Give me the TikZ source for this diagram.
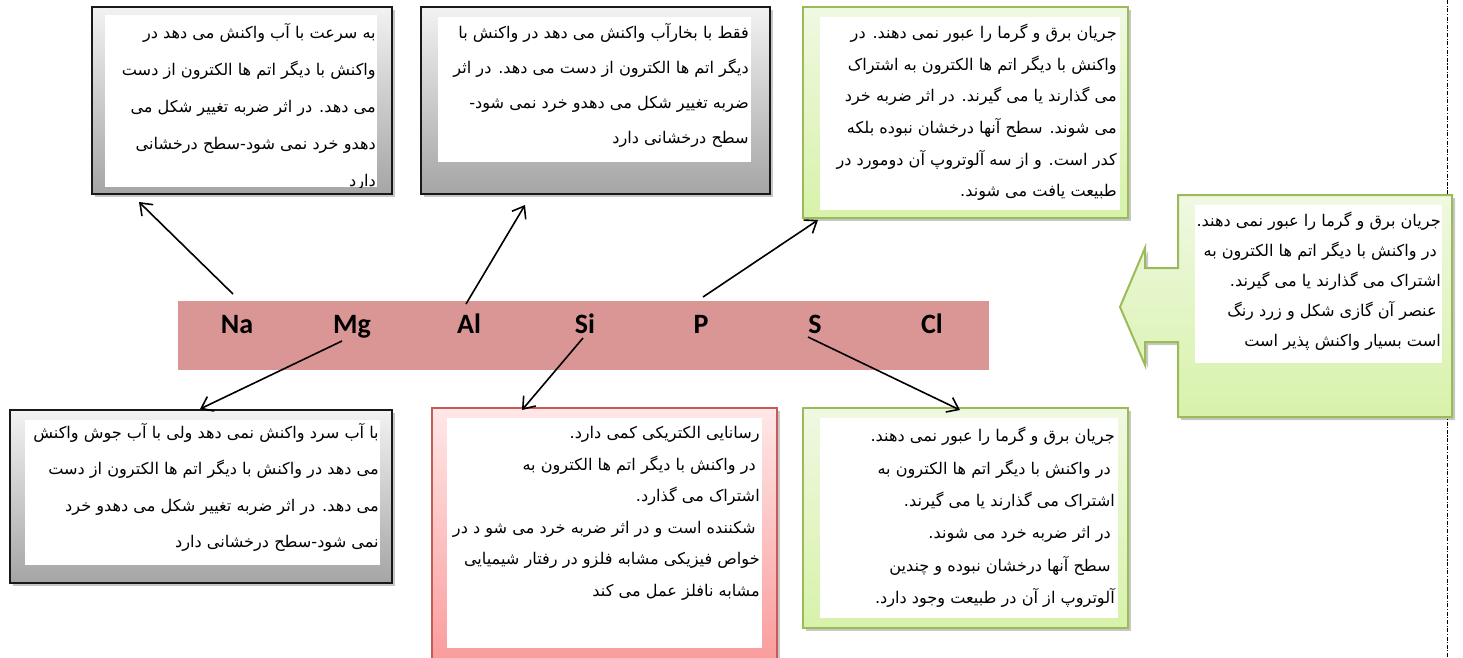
\documentclass[tikz,border=0pt]{standalone}
\usepackage{fontspec}
\usetikzlibrary{arrows.meta}
\TeXXeTstate=1
\newfontfamily\arabicfont[Script=Arabic]{DejaVu Sans}
\newfontfamily\elfont{Carlito}
\definecolor{bandc}{RGB}{217,150,148}
\definecolor{gtop}{RGB}{242,242,242}
\definecolor{gbot}{RGB}{165,165,165}
\definecolor{grnline}{RGB}{155,187,89}
\definecolor{grntop}{RGB}{240,248,226}
\definecolor{grnbot}{RGB}{215,242,170}
\definecolor{redline}{RGB}{200,90,88}
\definecolor{redtop}{RGB}{255,232,232}
\definecolor{redbot}{RGB}{250,155,155}
\tikzset{
  shadowbox/.style={fill=black, opacity=0.22},
  graybox/.style={draw=black!90, line width=1.5pt, top color=gtop, bottom color=gbot},
  greenbox/.style={draw=grnline, line width=1.5pt, top color=grntop, bottom color=grnbot},
  redbox/.style={draw=redline, line width=1.5pt, top color=redtop, bottom color=redbot},
  inner/.style={fill=white},
  para/.style={inner sep=0pt, anchor=north east, align=right, font={\arabicfont\fontsize{12.1}{#1}\selectfont}},
  elem/.style={inner sep=0pt, anchor=base, font={\elfont\bfseries\fontsize{21}{24}\selectfont}},
  arr/.style={line width=1.2pt, -{Straight Barb[length=8pt,width=12pt,line width=1.2pt]}}
}
\begin{document}
\begin{tikzpicture}[x=0.75pt,y=-0.75pt]
\useasboundingbox (0,0) rectangle (1463,657);
% dash-dot separator
\draw[line width=0.6pt, dash pattern=on 3pt off 1.2pt on 0.8pt off 1.2pt] (1447,0) -- (1447,657);

% band
\path[fill=bandc] (178,301) rectangle (989,370);
\node[elem] (na) at (237,333) {Na};
\node[elem] (mg) at (352,333) {Mg};
\node[elem] (al) at (469,333) {Al};
\node[elem] (si) at (585,333) {Si};
\node[elem] (p)  at (701,333) {P};
\node[elem] (s)  at (815,333) {S};
\node[elem] (cl) at (932,333) {Cl};

% ---- box 1 (Na)
\path[shadowbox] (95,10) rectangle (395,197);
\path[graybox] (92,7) rectangle (392,194);
\path[inner] (105,15) rectangle (377,187);
\begin{scope}
\clip (105,15) rectangle (377,187);
\node[para=27.7pt] (t1) at (376,23) {\beginR به سرعت با آب واکنش می دهد در\endR\\
\beginR واکنش با دیگر اتم ها الکترون از دست\endR\\
\beginR می دهد.  در اثر ضربه تغییر شکل می\endR\\
\beginR دهدو خرد نمی شود-سطح درخشانی\endR\\
\beginR دارد\endR};
\end{scope}

% ---- box 2 (Al)
\path[shadowbox] (424,10) rectangle (773,197);
\path[graybox] (421,7) rectangle (770,194);
\path[inner] (438,17) rectangle (751,162);
\node[para=26.2pt] (t2) at (749,23) {\beginR فقط با بخارآب واکنش می دهد در واکنش با\endR\\
\beginR دیگر اتم ها الکترون از دست می دهد.  در اثر\endR\\
\beginR ضربه تغییر شکل می دهدو خرد نمی شود-\endR\\
\beginR سطح درخشانی دارد\endR};

% ---- box 3 (P)
\path[shadowbox] (806,10) rectangle (1131,221);
\path[greenbox] (803,7) rectangle (1128,218);
\path[inner] (820,17) rectangle (1120,210);
\node[para=23.7pt] (t3) at (1117,24) {\beginR جریان برق و گرما را عبور نمی دهند.  در\endR\\
\beginR واکنش با دیگر اتم ها الکترون به اشتراک\endR\\
\beginR می گذارند یا می گیرند. در اثر ضربه خرد\endR\\
\beginR می شوند.  سطح آنها درخشان نبوده بلکه\endR\\
\beginR کدر است. و از سه آلوتروپ آن  دومورد در\endR\\
\beginR طبیعت یافت می شوند.\endR};

% ---- callout (Cl)
\path[shadowbox] (1181,198) -- (1455,198) -- (1455,420) -- (1181,420) -- (1181,345) -- (1148,345) -- (1148,368) -- (1123,310) -- (1148,251) -- (1148,271) -- (1181,271) -- cycle;
\path[greenbox] (1178,195) -- (1452,195) -- (1452,417) -- (1178,417) -- (1178,342) -- (1145,342) -- (1145,365) -- (1120,307) -- (1145,248) -- (1145,268) -- (1178,268) -- cycle;
\path[inner] (1195,205) rectangle (1442,363);
\node[para=22.5pt] (t4) at (1441,212) {\beginR جریان برق و گرما را عبور نمی دهند.\endR\\
\beginR در واکنش با دیگر اتم ها الکترون به\endR\kern3pt\\
\beginR اشتراک می گذارند یا می گیرند.\endR\\
\beginR عنصر آن گازی شکل و زرد رنگ\endR\kern3pt\\
\beginR است  بسیار واکنش پذیر است\endR};

% ---- box 4 (Mg)
\path[shadowbox] (13,413) rectangle (395,586);
\path[graybox] (10,410) rectangle (392,583);
\path[inner] (25,420) rectangle (380,565);
\node[para=27.3pt] (t5) at (379,423) {\beginR با آب سرد واکنش نمی دهد ولی با آب جوش واکنش\endR\\
\beginR می دهد در واکنش با دیگر اتم ها الکترون از دست\endR\\
\beginR می دهد.  در اثر ضربه تغییر شکل می دهدو خرد\endR\\
\beginR نمی شود-سطح درخشانی دارد\endR};

% ---- box 5 (Si)
\path[shadowbox] (435,411) rectangle (780,660);
\path[redbox] (432,408) rectangle (777,664);
\path[inner] (447,418) rectangle (762,648);
\node[para=23.7pt] (t6) at (760,426) {\beginR رسانایی الکتریکی کمی دارد.\endR\\
\beginR در واکنش با دیگر اتم ها الکترون به\endR\kern3pt\\
\beginR اشتراک می گذارد.\endR\\
\beginR شکننده است و در اثر ضربه خرد می شو د در\endR\kern3pt\\
\beginR خواص فیزیکی مشابه فلزو در رفتار شیمیایی\endR\\
\beginR مشابه نافلز عمل می کند\endR};

% ---- box 6 (S)
\path[shadowbox] (806,411) rectangle (1131,631);
\path[greenbox] (803,408) rectangle (1128,628);
\path[inner] (820,418) rectangle (1118,618);
\node[para=24.3pt] (t7) at (1115,427) {\beginR جریان برق و گرما را عبور نمی دهند.\endR\\
\beginR در واکنش با دیگر اتم ها الکترون به\endR\kern3pt\\
\beginR اشتراک می گذارند یا می گیرند.\endR\\
\beginR در اثر ضربه خرد می شوند.\endR\kern3pt\\
\beginR سطح آنها درخشان نبوده و چندین\endR\kern3pt\\
\beginR آلوتروپ از آن در طبیعت وجود دارد.\endR};

% ---- connectors
\coordinate (naS) at (233,294);  \coordinate (naE) at (139,202);
\coordinate (alS) at (466,304);  \coordinate (alE) at (525,205);
\coordinate (pS)  at (703,297);  \coordinate (pE)  at (818,220);
\coordinate (mgS) at (342,341);  \coordinate (mgE) at (200,409);
\coordinate (siS) at (583,338);  \coordinate (siE) at (522,410);
\coordinate (sS)  at (808,337);  \coordinate (sE)  at (960,410);
\draw[arr] (naS) -- (naE);
\draw[arr] (alS) -- (alE);
\draw[arr] (pS) -- (pE);
\draw[arr] (mgS) -- (mgE);
\draw[arr] (siS) -- (siE);
\draw[arr] (sS) -- (sE);
\end{tikzpicture}
\end{document}
